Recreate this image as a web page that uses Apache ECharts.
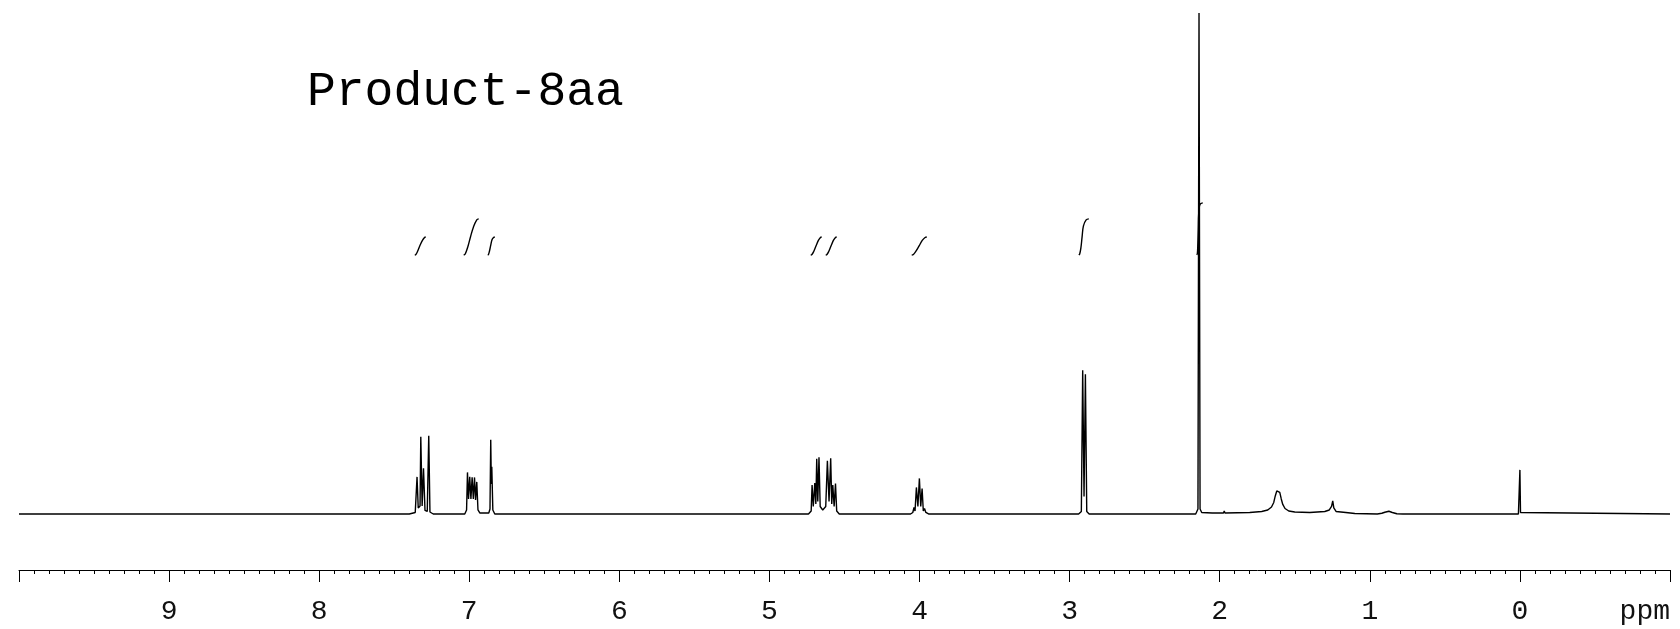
<!DOCTYPE html>
<html>
<head>
<meta charset="utf-8">
<title>Product-8aa</title>
<script src="https://cdn.jsdelivr.net/npm/echarts@6/dist/echarts.min.js"></script>
<style>
  html, body { margin: 0; padding: 0; background: #fff; }
  #chart { width: 1680px; height: 629px; }
</style>
</head>
<body>
<div id="chart"></div>
<script>
// 1H spectrum, [ppm, intensity] (tallest line = 100)
const spectrum = [
  [10, 0], [7.40, 0], [7.36, 0.3],
  [7.352, 0.6], [7.348, 7.4], [7.340, 1.2], [7.328, 1.6], [7.323, 15.4], [7.314, 1.6],
  [7.305, 9.1], [7.295, 0.7], [7.280, 0.5], [7.270, 15.6], [7.262, 0.4], [7.24, 0],
  [7.03, 0], [7.018, 0.8], [7.012, 8.3], [7.005, 3.0], [6.997, 7.4], [6.989, 3.0],
  [6.981, 7.3], [6.973, 3.0], [6.965, 7.3], [6.958, 2.8], [6.950, 6.4], [6.942, 0.8], [6.93, 0.2],
  [6.87, 0.2], [6.862, 1.0], [6.857, 14.8], [6.853, 6.0], [6.850, 9.4], [6.843, 0.8], [6.83, 0],
  [4.74, 0], [4.722, 0.6], [4.716, 5.8], [4.708, 1.5], [4.698, 6.2], [4.691, 2.0], [4.685, 11.0],
  [4.678, 2.5], [4.670, 11.3], [4.662, 1.5], [4.645, 0.8], [4.625, 1.5], [4.614, 10.6],
  [4.603, 2.5], [4.592, 11.1], [4.585, 2.0], [4.578, 5.8], [4.569, 1.5], [4.560, 6.1],
  [4.552, 0.6], [4.535, 0],
  [4.06, 0], [4.045, 0.3], [4.037, 1.3], [4.030, 0.6], [4.021, 5.3], [4.011, 1.5], [4.001, 7.1],
  [3.992, 1.5], [3.983, 5.1], [3.975, 0.6], [3.967, 1.1], [3.958, 0.3], [3.94, 0],
  [2.94, 0], [2.922, 0.5], [2.913, 28.7], [2.904, 3.5], [2.895, 27.9], [2.886, 0.5], [2.87, 0],
  [2.31, 0], [2.305, 0.3], [2.30, 0], [2.16, 0], [2.145, 1.0], [2.138, 100], [2.131, 1.0],
  [2.12, 0.3], [2.05, 0.2], [1.975, 0.2], [1.97, 0.6], [1.965, 0.2],
  [1.80, 0.3], [1.72, 0.5], [1.68, 0.8], [1.655, 1.4], [1.64, 2.3], [1.63, 3.6], [1.62, 4.6],
  [1.609, 4.9], [1.60, 4.3], [1.59, 3.0], [1.58, 1.9], [1.565, 1.1], [1.54, 0.6], [1.50, 0.4],
  [1.40, 0.3], [1.30, 0.5], [1.27, 0.8], [1.255, 1.5], [1.247, 2.6], [1.240, 1.2], [1.225, 0.5],
  [1.16, 0.3], [1.10, 0.1], [0.95, 0], [0.92, 0.15], [0.90, 0.35], [0.873, 0.55], [0.85, 0.3],
  [0.82, 0.05], [0.78, 0], [0.01, 0], [0.004, 0.3], [0.0, 8.8], [-0.004, 0.3], [-0.015, 0], [-1, 0]
];

// integral traces drawn above the multiplets
const integral1 = [[7.363, 51.7], [7.356, 51.8], [7.345, 52.4], [7.330, 53.5], [7.312, 54.6], [7.298, 55.2], [7.290, 55.3]];
const integral2 = [[7.037, 51.7], [7.027, 51.9], [7.010, 53.3], [6.992, 55.3], [6.972, 57.3], [6.950, 58.7], [6.937, 58.9]];
const integral3 = [[6.877, 51.7], [6.872, 51.8], [6.866, 52.4], [6.858, 53.5], [6.848, 54.8], [6.838, 55.2], [6.830, 55.3]];
const integral4 = [[4.725, 51.7], [4.717, 51.8], [4.705, 52.4], [4.690, 53.5], [4.674, 54.6], [4.660, 55.2], [4.652, 55.3]];
const integral5 = [[4.625, 51.7], [4.617, 51.8], [4.605, 52.4], [4.590, 53.5], [4.574, 54.6], [4.560, 55.2], [4.552, 55.3]];
const integral6 = [[4.052, 51.7], [4.041, 51.8], [4.025, 52.4], [4.003, 53.5], [3.982, 54.6], [3.963, 55.2], [3.952, 55.3]];
const integral7 = [[2.939, 51.7], [2.933, 51.9], [2.925, 53.1], [2.917, 55.3], [2.908, 57.5], [2.890, 58.7], [2.872, 58.9]];
const integral8 = [[2.153, 51.7], [2.149, 52.0], [2.146, 53.8], [2.143, 56.9], [2.140, 60.0], [2.132, 61.8], [2.113, 62.1]];
const integrals = [integral1, integral2, integral3, integral4, integral5, integral6, integral7, integral8];

const monoFont = "'Courier New', 'Liberation Mono', monospace";

const myChart = echarts.init(document.getElementById('chart'));

const option = {
  animation: false,
  backgroundColor: '#fff',
  title: {
    text: 'Product-8aa',
    left: 307,
    top: 68,
    padding: 0,
    textStyle: {
      fontFamily: monoFont,
      fontSize: 48,
      fontWeight: 'normal',
      color: '#000'
    }
  },
  grid: {
    left: 19,
    right: 10,
    top: 13,
    bottom: 105
  },
  xAxis: {
    type: 'value',
    inverse: true,
    min: -1,
    max: 10,
    interval: 1,
    offset: 46,
    splitLine: { show: false },
    axisLine: { onZero: false, lineStyle: { color: '#000', width: 1 } },
    axisTick: { length: 12, lineStyle: { color: '#000', width: 1 } },
    minorTick: { show: true, splitNumber: 10, length: 4, lineStyle: { color: '#000', width: 1 } },
    axisLabel: {
      margin: 28,
      fontFamily: monoFont,
      fontSize: 28,
      color: '#111',
      alignMinLabel: 'right',
      formatter: function (v) {
        if (v === 10) return '';
        if (v === -1) return 'ppm';
        return String(v);
      }
    }
  },
  yAxis: {
    type: 'value',
    min: -2,
    max: 100,
    show: false
  },
  series: [
    {
      type: 'line',
      data: spectrum,
      showSymbol: false,
      clip: true,
      lineStyle: { color: '#000', width: 1.4 }
    }
  ].concat(integrals.map(function (pts) {
    return {
      type: 'line',
      data: pts,
      showSymbol: false,
      smooth: 0.4,
      lineStyle: { color: '#000', width: 1.4 }
    };
  }))
};

option && myChart.setOption(option);
</script>
</body>
</html>
